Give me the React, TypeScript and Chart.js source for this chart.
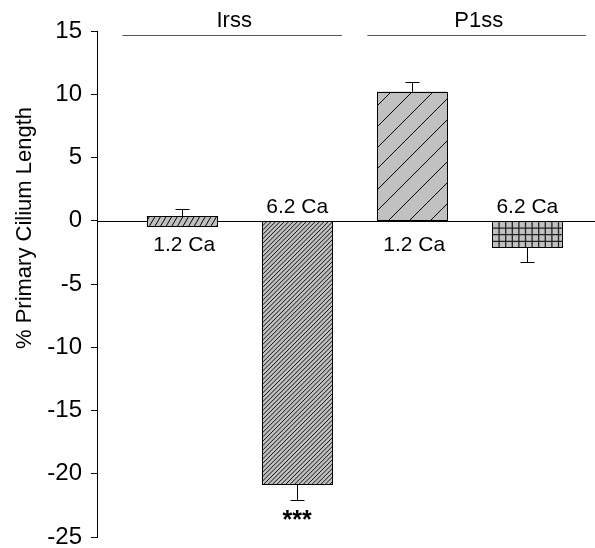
import React, { useEffect, useRef } from "react";
import { Chart, registerables } from "chart.js";

Chart.register(...registerables);

// ---- data ----
const categories = ["1.2 Ca", "6.2 Ca", "1.2 Ca", "6.2 Ca"];
const barBase = [-0.4, 0, 0, 0];
const barValues = [0.35, -20.8, 10.2, -2.1];
const errorEnds = [0.9, -22.05, 10.95, -3.25];
const significance = ["", "***", "", ""];
const groupLabels = ["Irss", "P1ss"];
const groupMembers = [
  [0, 1],
  [2, 3],
];
const yMin = -25;
const yMax = 15;
const yStep = 5;
const yTitle = "% Primary Cilium Length";

const FONT = "'Liberation Sans', Arial, Helvetica, sans-serif";

type Hatch =
  | { kind: "diag"; period: number; angle: number; width: number; color: string }
  | { kind: "grid"; period: number; width: number; color: string };

const hatches: Hatch[] = [
  { kind: "diag", period: 5.6, angle: 60, width: 1, color: "#000" },
  { kind: "diag", period: 4.4, angle: 45, width: 1, color: "#111" },
  { kind: "diag", period: 21, angle: 45, width: 1, color: "#000" },
  { kind: "grid", period: 6.6, width: 1.3, color: "#222" },
];

function drawHatch(ctx: CanvasRenderingContext2D, l: number, t: number, r: number, b: number, h: Hatch) {
  ctx.save();
  ctx.beginPath();
  ctx.rect(l, t, r - l, b - t);
  ctx.clip();
  ctx.strokeStyle = h.color;
  ctx.lineWidth = h.width;
  ctx.beginPath();
  if (h.kind === "diag") {
    const k = Math.tan((h.angle * Math.PI) / 180);
    const cStart = Math.floor((l + t / k) / h.period) * h.period;
    const cEnd = r + b / k + h.period;
    for (let c = cStart; c <= cEnd; c += h.period) {
      ctx.moveTo(c - t / k, t);
      ctx.lineTo(c - b / k, b);
    }
  } else {
    for (let x = l + h.period; x < r; x += h.period) {
      ctx.moveTo(x, t);
      ctx.lineTo(x, b);
    }
    for (let y = t + h.period; y < b; y += h.period) {
      ctx.moveTo(l, y);
      ctx.lineTo(r, y);
    }
  }
  ctx.stroke();
  ctx.restore();
}

const annotPlugin = {
  id: "annot",
  beforeDatasetsDraw(chart: any) {
    const ctx = chart.ctx as CanvasRenderingContext2D;
    const ys = chart.scales.y;
    const z = Math.round(ys.getPixelForValue(0)) + 0.5;
    ctx.save();
    ctx.strokeStyle = "#000";
    ctx.lineWidth = 1;
    ctx.beginPath();
    ctx.moveTo(chart.chartArea.left, z);
    ctx.lineTo(chart.width, z);
    ctx.stroke();
    ctx.restore();
  },
  afterDatasetsDraw(chart: any) {
    const ctx = chart.ctx as CanvasRenderingContext2D;
    const ys = chart.scales.y;
    const xs = chart.scales.x;
    const meta = chart.getDatasetMeta(0);
    const z = ys.getPixelForValue(0);
    ctx.save();
    meta.data.forEach((el: any, i: number) => {
      const { x, y, base, width } = el.getProps(["x", "y", "base", "width"], true);
      const l = Math.round(x - width / 2) + 0.5;
      const r = Math.round(x + width / 2) + 0.5;
      const t = Math.round(Math.min(y, base)) + 0.5;
      const b = Math.round(Math.max(y, base)) + 0.5;
      drawHatch(ctx, l, t, r, b, hatches[i]);
      ctx.strokeStyle = "#000";
      ctx.lineWidth = 1;
      ctx.strokeRect(l, t, r - l, b - t);
      // error bar
      const vEnd = ys.getPixelForValue(barValues[i]);
      const eEnd = ys.getPixelForValue(errorEnds[i]);
      const cx = Math.round(x) + 0.5;
      ctx.beginPath();
      ctx.moveTo(cx, vEnd);
      ctx.lineTo(cx, Math.round(eEnd) + 0.5);
      ctx.moveTo(cx - 7, Math.round(eEnd) + 0.5);
      ctx.lineTo(cx + 7, Math.round(eEnd) + 0.5);
      ctx.stroke();
      // category label on opposite side of zero line
      ctx.fillStyle = "#000";
      ctx.font = `21px ${FONT}`;
      ctx.textAlign = "center";
      ctx.textBaseline = "alphabetic";
      if (barValues[i] >= 0) ctx.fillText(categories[i], x + 2, z + 30);
      else ctx.fillText(categories[i], x, z - 8);
      // significance
      if (significance[i]) {
        ctx.font = `bold 25px ${FONT}`;
        ctx.fillText(significance[i], x, eEnd + 28);
      }
    });
    // group lines and labels
    const top = chart.chartArea.top;
    const step = xs.getPixelForValue(1) - xs.getPixelForValue(0);
    groupLabels.forEach((g, gi) => {
      const mem = groupMembers[gi];
      const first = xs.getPixelForValue(mem[0]);
      const last = xs.getPixelForValue(mem[mem.length - 1]);
      const left = gi === 0 ? first - step * 0.52 : first - step * 0.39;
      const right = gi === 0 ? last + step * 0.39 : Math.min(last + step * 0.52, chart.width - 9);
      const ly = Math.round(top + 3.5) + 0.5;
      ctx.strokeStyle = "#555";
      ctx.lineWidth = 1;
      ctx.beginPath();
      ctx.moveTo(left, ly);
      ctx.lineTo(right, ly);
      ctx.stroke();
      ctx.fillStyle = "#000";
      ctx.font = `22px ${FONT}`;
      ctx.textAlign = "center";
      ctx.textBaseline = "alphabetic";
      ctx.fillText(g, (left + right) / 2 + 2, top - 4);
    });
    // y title
    ctx.save();
    ctx.translate(25, 228);
    ctx.rotate(-Math.PI / 2);
    ctx.font = `22px ${FONT}`;
    ctx.textAlign = "center";
    ctx.textBaseline = "middle";
    ctx.fillStyle = "#000";
    ctx.fillText(yTitle, 0, 0);
    ctx.restore();
    ctx.restore();
  },
};

export default function App() {
  const ref = useRef<HTMLCanvasElement | null>(null);
  useEffect(() => {
    document.body.style.margin = "0";
    const canvas = ref.current;
    if (!canvas) return;
    const chart = new Chart(canvas, {
      type: "bar",
      data: {
        datasets: [
          {
            data: categories.map((_, i) => ({ x: i, y: [barBase[i], barValues[i]] })) as any,
            backgroundColor: "#c0c0c0",
            borderWidth: 0,
            barThickness: 70,
          },
        ],
      },
      options: {
        animation: false,
        responsive: false,
        devicePixelRatio: 1,
        layout: { padding: { top: 31, right: 9, bottom: 11, left: 0 } },
        plugins: { legend: { display: false }, tooltip: { enabled: false }, title: { display: false } },
        scales: {
          x: { type: "linear", min: -0.74, max: 3.51, display: false, offset: false },
          y: {
            type: "linear",
            min: yMin,
            max: yMax,
            afterFit: (s: any) => {
              s.width = 97;
              s.paddingTop = 0;
              s.paddingBottom = 0;
            },
            ticks: {
              stepSize: yStep,
              color: "#000",
              padding: 9,
              font: { family: FONT, size: 24, lineHeight: 1 },
            },
            grid: { drawOnChartArea: false, drawTicks: true, tickLength: 6, tickColor: "#000", tickWidth: 1 },
            border: { display: true, color: "#000", width: 1 },
          },
        },
      },
      plugins: [annotPlugin],
    });
    return () => chart.destroy();
  }, []);
  return (
    <div style={{ width: 595, height: 548 }}>
      <canvas ref={ref} width={595} height={548} />
    </div>
  );
}
